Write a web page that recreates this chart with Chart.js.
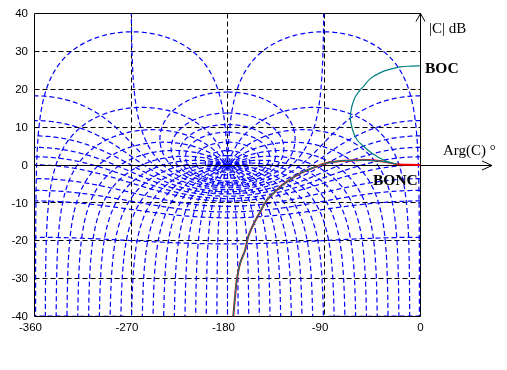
<!DOCTYPE html>
<html>
<head>
<meta charset="utf-8">
<script src="https://cdn.jsdelivr.net/npm/chart.js@4.4.1/dist/chart.umd.min.js"></script>
<style>
  html, body { margin: 0; padding: 0; background: #fff; }
  #wrap { position: relative; width: 507px; height: 370px; }
</style>
</head>
<body>
<div id="wrap"><canvas id="nichols" width="507" height="370"></canvas></div>
<script>
const phaseTicks = [-360, -270, -180, -90, 0];
const gainTicks = [40, 30, 20, 10, 0, -10, -20, -30, -40];

// Black-Nichols abacus: closed-loop gain contours (dB) and closed-loop phase contours (deg)
const isoGainDb = [12, 9, 6, 4, 3, 2, 1, 0, -1, -2, -3, -4, -5, -6, -8, -10, -12, -20, -40];
const isoPhaseDeg = [-1, -10, -20, -30, -40, -50, -60, -70, -80, -90, -100, -110, -120, -130, -140,
  -150, -160, -170, -180, -190, -200, -210, -220, -230, -240, -250, -260, -270, -280, -290, -300,
  -310, -320, -330, -340, -350, -359];

// BONC = open loop, not corrected ; BOC = open loop, corrected
const boncPhase = [0, -9.3, -21.8, -34.3, -49.8, -65.5, -81.0, -90.4, -99.8, -112.2, -124.6, -134.0,
  -143.3, -149.6, -156.2, -160.8, -163.6, -168.3, -171.4, -173.0, -174.6];
const boncGain = [0, 0.05, 0.2, 0.9, 1.3, 1.2, 0.85, 0.26, -0.7, -2.2, -4.4, -6.6,
  -9.3, -12.4, -15.9, -19.0, -22.5, -26.0, -30.5, -34.9, -40];
const bocPhase = [0, -9.3, -18.7, -28.0, -37.4, -46.8, -53.3, -56.1, -60.8, -63.6, -65.0, -65.5, -64.5,
  -62.4, -59.0, -54.5, -45.2, -34.3, -23.4, -21.8, -34.3, -49.8, -65.5, -81.0, -90.4, -99.8, -112.2,
  -124.6, -134.0, -143.3, -149.6, -156.2, -160.8, -163.6, -168.3, -171.4, -173.0, -174.6];
const bocGain = [26.2, 26.1, 25.9, 25.3, 24.4, 22.8, 20.7, 19.9, 18.0, 15.9, 14.0, 12.4, 10.6,
  8.5, 6.6, 5.3, 3.1, 1.3, 0.26, 0.2, 0.9, 1.3, 1.2, 0.85, 0.26, -0.7, -2.2,
  -4.4, -6.6, -9.3, -12.4, -15.9, -19.0, -22.5, -26.0, -30.5, -34.9, -40];

const R2D = 180 / Math.PI;

function nicholsPt(re, im) {
  let ph = Math.atan2(im, re) * R2D;
  if (ph > 0) ph -= 360;
  return { x: ph, y: 20 * Math.log10(Math.hypot(re, im)) };
}

// break the line where the phase wraps around
function withGaps(pts) {
  const out = [];
  pts.forEach((p, i) => {
    if (i > 0 && Math.abs(p.x - pts[i - 1].x) > 180) out.push({ x: p.x, y: NaN });
    out.push(p);
  });
  return out;
}

function isoGainCurve(db) {
  const m = Math.pow(10, db / 20), n = 1440, pts = [];
  for (let k = 0; k <= n; k++) {
    const psi = -(0.001 + k * 359.998 / n) / R2D;
    const tRe = m * Math.cos(psi), tIm = m * Math.sin(psi);
    const dRe = 1 - tRe, dIm = -tIm, d = dRe * dRe + dIm * dIm;
    pts.push(nicholsPt((tRe * dRe + tIm * dIm) / d, (tIm * dRe - tRe * dIm) / d));
  }
  return withGaps(pts);
}

function isoPhaseCurve(deg) {
  let psi = deg < -180 ? deg + 360 : deg;
  if (psi === -180) psi = -179.999;
  const tMax = psi > 0 ? 180 - psi : -(180 + psi), n = 500, pts = [];
  for (let k = 1; k <= n; k++) {
    const t = tMax * Math.pow(k / n, 3) / R2D;
    const mag = Math.sin(t) / Math.sin(psi / R2D), th = psi / R2D + t;
    pts.push(nicholsPt(mag * Math.cos(th), mag * Math.sin(th)));
  }
  return withGaps(pts);
}

const gridStyle = { borderColor: '#0000ff', borderWidth: 1.2, borderDash: [5, 3], order: 2 };
const datasets = [
  {
    label: 'BOC', data: bocPhase.map((p, i) => ({ x: p, y: bocGain[i] })),
    borderColor: '#008080', borderWidth: 1.2, tension: 0.3, order: 0,
  },
  {
    label: 'BONC', data: boncPhase.map((p, i) => ({ x: p, y: boncGain[i] })),
    borderColor: '#ff0000', borderWidth: 2, tension: 0.25, order: 1,
  },
  ...isoGainDb.map(db => ({ label: `M ${db} dB`, data: isoGainCurve(db), ...gridStyle })),
  ...isoPhaseDeg.map(deg => ({ label: `N ${deg}`, data: isoPhaseCurve(deg), ...gridStyle })),
];

const crisp = v => Math.round(v - 0.5) + 0.5;

const abacus = {
  id: 'abacus',
  beforeDatasetsDraw(chart) {
    const { ctx, chartArea: a, scales: { x, y } } = chart;
    ctx.save();
    ctx.strokeStyle = '#000';
    ctx.lineWidth = 1;
    ctx.setLineDash([5, 3]);
    ctx.beginPath();
    phaseTicks.slice(1, -1).forEach(v => {
      const px = crisp(x.getPixelForValue(v));
      ctx.moveTo(px, a.top); ctx.lineTo(px, a.bottom);
    });
    gainTicks.slice(1, -1).filter(v => v !== 0).forEach(v => {
      const py = crisp(y.getPixelForValue(v));
      ctx.moveTo(a.left, py); ctx.lineTo(a.right, py);
    });
    ctx.stroke();
    ctx.restore();
  },
  beforeDatasetDraw(chart, args) {
    if (args.meta.label !== 'BONC') return;
    const { ctx, chartArea: a, scales: { x, y } } = chart;
    const x0 = crisp(x.getPixelForValue(0)), y0 = crisp(y.getPixelForValue(0));
    const l = crisp(a.left), t = crisp(a.top), b = crisp(a.bottom);
    ctx.save();
    ctx.strokeStyle = '#000';
    ctx.lineWidth = 1;
    ctx.setLineDash([]);
    ctx.beginPath();
    // frame
    ctx.moveTo(x0, t); ctx.lineTo(l, t); ctx.lineTo(l, b); ctx.lineTo(x0, b);
    // |C| axis with arrow
    ctx.moveTo(x0, b); ctx.lineTo(x0, t);
    ctx.moveTo(x0 - 4.5, t + 8); ctx.lineTo(x0, t); ctx.lineTo(x0 + 4.5, t + 8);
    // Arg(C) axis with arrow
    ctx.moveTo(l, y0); ctx.lineTo(492, y0);
    ctx.moveTo(482, y0 - 4.5); ctx.lineTo(492, y0); ctx.lineTo(482, y0 + 4.5);
    ctx.stroke();
    ctx.restore();
  },
  afterDraw(chart) {
    const { ctx, chartArea: a, scales: { x, y } } = chart;
    ctx.save();
    ctx.fillStyle = '#000';
    ctx.font = '11.5px "Liberation Sans", Arial, sans-serif';
    ctx.textAlign = 'right';
    ctx.textBaseline = 'middle';
    gainTicks.forEach(v => ctx.fillText(String(v), 28, y.getPixelForValue(v) + 0.5));
    ctx.textAlign = 'center';
    ctx.textBaseline = 'top';
    phaseTicks.forEach(v => ctx.fillText(String(v), x.getPixelForValue(v) - (v < 0 ? 4 : 0), a.bottom + 6));

    ctx.textAlign = 'left';
    ctx.textBaseline = 'alphabetic';
    ctx.font = '15px "Liberation Serif", "Times New Roman", serif';
    ctx.fillText('|C| dB', 429, 33);
    ctx.fillText('Arg(C) °', 443, 155);
    ctx.font = 'bold 15.5px "Liberation Serif", "Times New Roman", serif';
    ctx.fillText('BOC', 425, 73);
    ctx.fillText('BONC', 373, 185);
    ctx.restore();
  },
};

new Chart(document.getElementById('nichols'), {
  type: 'scatter',
  data: { datasets },
  options: {
    responsive: false,
    animation: false,
    events: [],
    devicePixelRatio: 1,
    showLine: true,
    layout: { padding: { left: 34.5, top: 13.5, right: 86.5, bottom: 53.5 } },
    elements: { point: { radius: 0 }, line: { fill: false } },
    scales: {
      x: { type: 'linear', min: -360, max: 0, display: false },
      y: { type: 'linear', min: -40, max: 40, display: false },
    },
    plugins: { legend: { display: false }, tooltip: { enabled: false } },
  },
  plugins: [abacus],
});
</script>
</body>
</html>
